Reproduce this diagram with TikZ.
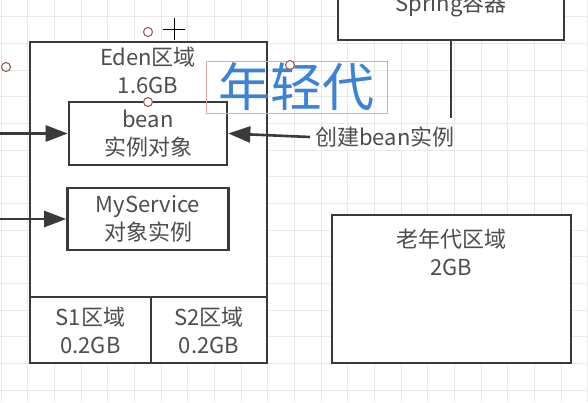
\documentclass[tikz,border=0pt]{standalone}
\usepackage{fontspec}
\setmainfont{Noto Sans CJK SC}
\usetikzlibrary{arrows.meta}
\definecolor{linegray}{HTML}{3A3A3A}
\definecolor{textgray}{HTML}{4D4D4D}
\definecolor{gridgray}{HTML}{EAEAEA}
\definecolor{youngblue}{HTML}{3C83D6}
\definecolor{pinkline}{HTML}{E8A3A3}
\definecolor{handlered}{HTML}{9A5858}
\begin{document}
\begin{tikzpicture}
            [
                x=1pt, y=-1pt,
                box/.style={rectangle, line width=2.6pt, draw=linegray, fill=white, inner sep=0pt},
                txt/.style={text=textgray, align=center, font=\fontsize{22}{28}\selectfont},
                handle/.style={circle, draw=handlered, fill=white, line width=1.1pt, minimum size=9pt, inner sep=0pt},
                arr/.style={-{Triangle[length=22pt,width=16pt]}, line width=2.6pt, draw=linegray}
            ]
            % background and grid
            \fill[white] (0,0) rectangle (588,402);
            \useasboundingbox (0,0) rectangle (588,402);
            \foreach \gx in {0,...,22}
                \draw[gridgray, line width=0.8pt] ({1+26.67*\gx},0) -- ({1+26.67*\gx},402);
            \foreach \gy in {0,...,14}
                \draw[gridgray, line width=0.8pt] (0,{16.6+26.67*\gy}) -- (588,{16.6+26.67*\gy});
            % Spring
            \node[box, minimum width=226pt, minimum height=60pt] (spring) at (451,10) {};
            \node[txt] (springlbl) at (451,5) {Spring容器};
            % Eden
            \node[box, minimum width=237pt, minimum height=255pt] (eden) at (148.5,169.5) {};
            \node[txt] (edenlbl) at (148,70) {Eden区域\\1.6GB};
            \node[box, txt, minimum width=158pt, minimum height=63pt] (bean) at (148,133.5) {bean\\实例对象};
            \node[box, txt, minimum width=161pt, minimum height=62pt] (mysvc) at (148,219) {MyService\\对象实例};
            % S1 S2
            \node[box, txt, minimum width=121pt, minimum height=66pt] (sone) at (90.5,330) {S1区域\\0.2GB};
            \node[box, txt, minimum width=116pt, minimum height=66pt] (stwo) at (209,330) {S2区域\\0.2GB};
            % old
            \node[box, minimum width=239pt, minimum height=148pt] (old) at (451.5,289) {};
            \node[txt] (oldlbl) at (451.5,252) {老年代区域\\2GB};
            % arrows
            \node[txt, anchor=west, inner sep=5pt] (create) at (310,137) {创建bean实例};
            \coordinate (inone) at (0,133.5);
            \coordinate (intwo) at (0,219);
            \draw[arr] (inone) -- (bean.west);
            \draw[arr] (intwo) -- (mysvc.west);
            \draw[arr] (create.west) -- (bean.east);
            \coordinate (linestop) at (451,118);
            \draw[line width=2.6pt, linegray] (spring.south) -- (linestop);
            % label
            \node[font=\fontsize{52}{52}\selectfont, text=youngblue, draw=pinkline, line width=0.8pt,
                  minimum width=181pt, minimum height=52pt, inner sep=0pt] (young) at (296.5,87) {年轻代};
            % handles
            \node[handle] (hone) at (148,32) {};
            \node[handle] (htwo) at (6,67) {};
            \node[handle] (hthree) at (148,102) {};
            \node[handle] (hfour) at (290,65) {};
            \coordinate (cursor) at (174,29);
            \draw[line width=1pt, black] ([xshift=-11pt]cursor) -- ([xshift=11pt]cursor);
            \draw[line width=1pt, black] ([yshift=-11pt]cursor) -- ([yshift=11pt]cursor);
        \end{tikzpicture}
\end{document}
